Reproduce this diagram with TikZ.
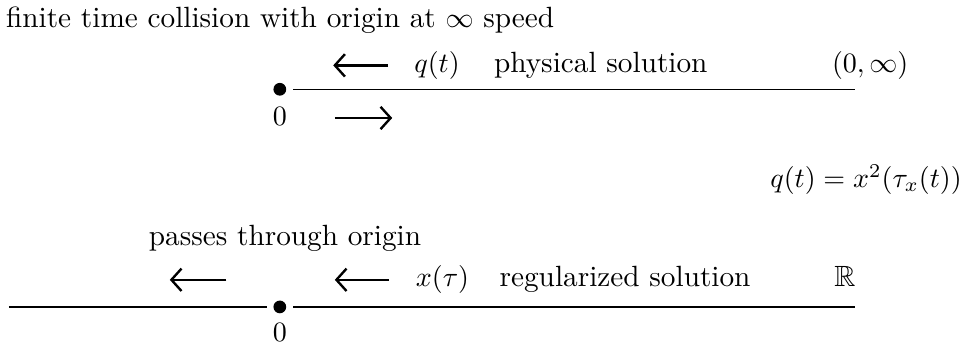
\documentclass[tikz,border=0pt]{standalone}
\usepackage{amsmath,amssymb}
\usetikzlibrary{positioning,arrows.meta}

\begin{document}
\begin{tikzpicture}[
    every node/.style={inner sep=0pt,font=\fontsize{10.45}{12.5}\selectfont},
    origindot/.style={circle,fill=black,minimum size=0.16cm},
    axisline/.style={black,line width=0.5pt},
    motion/.style={line width=0.85pt,-{Straight Barb[length=3.6pt,width=8pt,line width=0.85pt]}}]
  \useasboundingbox (0,0) rectangle (12.13,4.33);
  % --- physical solution ---
  \node[anchor=base west] (title) at (0.07,3.99) {finite time collision with origin at $\infty$ speed};
  \node[origindot] (o1) at (3.51,3.21) {};
  \coordinate (e1) at (10.72,3.21);
  \draw[axisline,shorten <=0.08cm] (o1) -- (e1);
  \node[anchor=base] (z1) at (3.51,2.75) {$0$};
  \coordinate (in1s) at (4.87,3.51);
  \coordinate (in1e) at (4.18,3.51);
  \draw[motion] (in1s) -- (in1e);
  \node[anchor=base west] (q) at (5.19,3.42) {$q(t)$};
  \node[anchor=base west] (phys) at (6.19,3.42) {physical solution};
  \node[anchor=base west] (half) at (10.43,3.42) {$(0,\infty)$};
  \coordinate (out1s) at (4.20,2.85);
  \coordinate (out1e) at (4.92,2.85);
  \draw[motion] (out1s) -- (out1e);
  % --- relation ---
  \node[anchor=base east] (rel) at (12.07,1.98) {$q(t)=x^2(\tau_x(t))$};
  % --- regularized solution ---
  \node[anchor=base west] (pass) at (1.86,1.25) {passes through origin};
  \node[origindot] (o2) at (3.51,0.48) {};
  \coordinate (l2) at (0.11,0.48);
  \coordinate (e2) at (10.72,0.48);
  \draw[axisline,shorten >=0.08cm] (l2) -- (o2);
  \draw[axisline,shorten <=0.08cm] (o2) -- (e2);
  \node[anchor=base] (z2) at (3.51,0.04) {$0$};
  \coordinate (in2s) at (2.84,0.82);
  \coordinate (in2e) at (2.13,0.82);
  \draw[motion] (in2s) -- (in2e);
  \coordinate (in3s) at (4.88,0.82);
  \coordinate (in3e) at (4.20,0.82);
  \draw[motion] (in3s) -- (in3e);
  \node[anchor=base west] (x) at (5.21,0.73) {$x(\tau)$};
  \node[anchor=base west] (reg) at (6.26,0.73) {regularized solution};
  \node[anchor=base west] (line) at (10.46,0.73) {$\mathbb{R}$};
\end{tikzpicture}
\end{document}
